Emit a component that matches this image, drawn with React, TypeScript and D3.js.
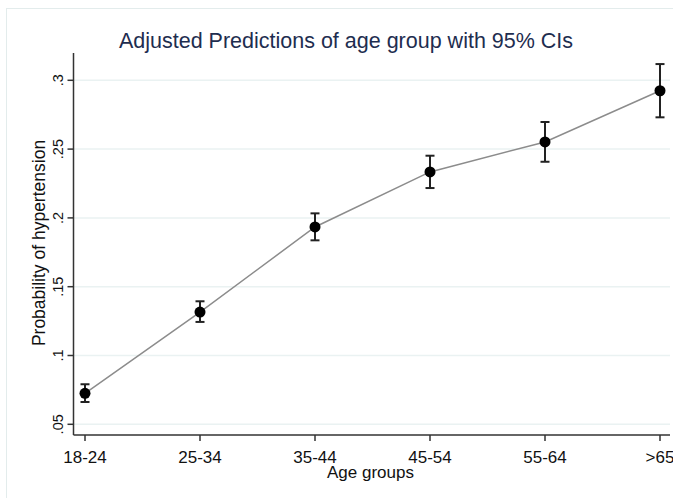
import React from 'react';
import * as d3 from 'd3';

// 年齡組及其預測值
const ageGroups = ['18-24', '25-34', '35-44', '45-54', '55-64', '>65'];
const predicted = [0.0725, 0.1316, 0.1934, 0.2334, 0.2552, 0.2924];
const ciLow = [0.0662, 0.1244, 0.1837, 0.2217, 0.2408, 0.2731];
const ciHigh = [0.0791, 0.1394, 0.2033, 0.2452, 0.2697, 0.3118];
const yTicks = [0.05, 0.1, 0.15, 0.2, 0.25, 0.3];
const yTickLabels = ['.05', '.1', '.15', '.2', '.25', '.3'];

const W = 673;
const H = 498;

const App: React.FC = () => {
    const x = d3.scalePoint<string>()
        .domain(ageGroups)
        .range([85, 660]);

    const y = d3.scaleLinear()
        .domain([0.05, 0.3])
        .range([424.3, 80.3]);

    const axisX = 73.5;
    const axisY = 435;
    const font = '"Liberation Sans", Arial, sans-serif';

    const line = d3.line<number>()
        .x((_, i) => x(ageGroups[i]) as number)
        .y(d => y(d));

    return (
        <svg width={W} height={H} style={{position: 'absolute', left: 0, top: 0, background: '#fff'}}
             fontFamily={font}>
            {/* 外框 */}
            <rect x={6.5} y={8.5} width={720} height={540} fill="none" stroke="#e3ecec" strokeWidth={1}/>

            {/* 標題 */}
            <text x={346} y={48} textAnchor="middle" fontSize={21.5} fill="#1e2d4f">
                Adjusted Predictions of age group with 95% CIs
            </text>

            {/* 格線 */}
            {yTicks.map(t => (
                <line key={`g${t}`} x1={axisX} x2={670} y1={y(t)} y2={y(t)} stroke="#eaf2f2" strokeWidth={1.5}/>
            ))}

            {/* Y 軸 */}
            <line x1={axisX} x2={axisX} y1={53} y2={axisY} stroke="#333" strokeWidth={1.5}/>
            {yTicks.map((t, i) => (
                <g key={`yt${t}`}>
                    <line x1={axisX - 6} x2={axisX} y1={y(t)} y2={y(t)} stroke="#333" strokeWidth={1.5}/>
                    <text transform={`translate(63,${y(t)}) rotate(-90)`} textAnchor="middle"
                          fontSize={14.5} fill="#111">{yTickLabels[i]}</text>
                </g>
            ))}
            <text transform={`translate(45,243) rotate(-90)`} textAnchor="middle" fontSize={17.5} fill="#111">
                Probability of hypertension
            </text>

            {/* X 軸 */}
            <line x1={axisX} x2={670} y1={axisY} y2={axisY} stroke="#333" strokeWidth={1.5}/>
            {ageGroups.map(g => (
                <g key={`xt${g}`}>
                    <line x1={x(g)} x2={x(g)} y1={axisY} y2={axisY + 6} stroke="#333" strokeWidth={1.5}/>
                    <text x={x(g)} y={462.5} textAnchor="middle" fontSize={17} fill="#111">{g}</text>
                </g>
            ))}
            <text x={370.5} y={478} textAnchor="middle" fontSize={17} fill="#111">Age groups</text>

            {/* 連線 */}
            <path d={line(predicted) || ''} fill="none" stroke="#8c8c8c" strokeWidth={1.5}/>

            {/* 信賴區間 */}
            {ageGroups.map((g, i) => {
                const cx = x(g) as number;
                return (
                    <g key={`ci${g}`} stroke="#222" strokeWidth={2}>
                        <line x1={cx} x2={cx} y1={y(ciLow[i])} y2={y(ciHigh[i])}/>
                        <line x1={cx - 4.5} x2={cx + 4.5} y1={y(ciLow[i])} y2={y(ciLow[i])}/>
                        <line x1={cx - 4.5} x2={cx + 4.5} y1={y(ciHigh[i])} y2={y(ciHigh[i])}/>
                    </g>
                );
            })}

            {/* 點 */}
            {ageGroups.map((g, i) => (
                <circle key={`p${g}`} cx={x(g)} cy={y(predicted[i])} r={5.5} fill="#000"/>
            ))}
        </svg>
    );
};

export default App;
